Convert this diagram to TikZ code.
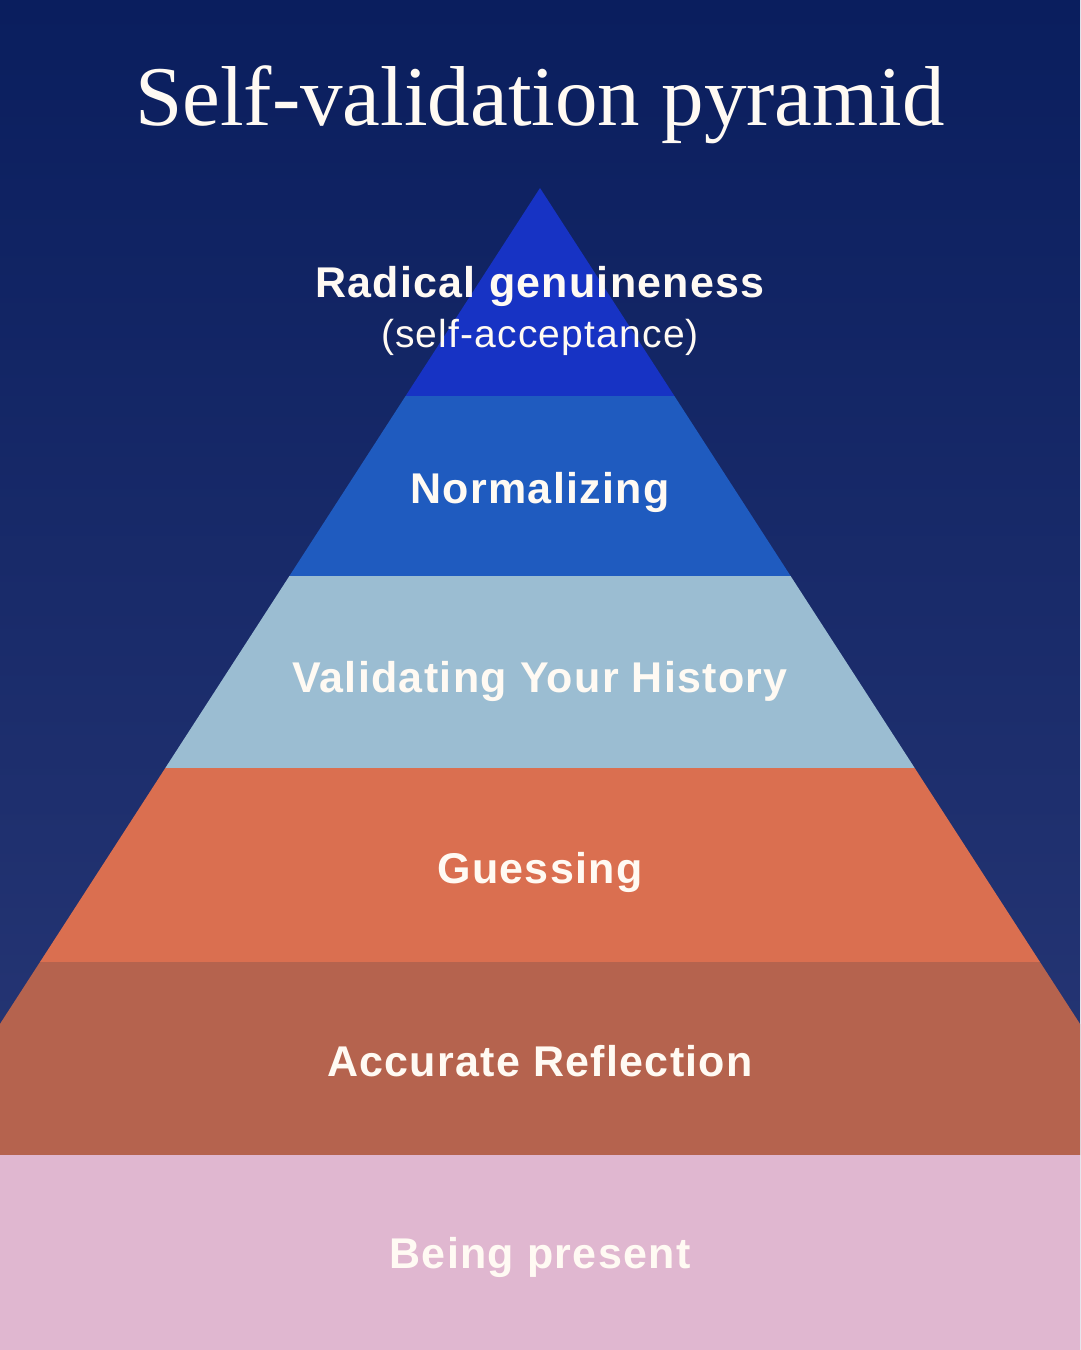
\documentclass[tikz,border=0pt]{standalone}
\usepackage{fontspec}
\setmainfont{Liberation Serif}
\newfontfamily\labfont[LetterSpace=3]{Liberation Sans}
\newfontfamily\sublabfont[LetterSpace=3]{Liberation Sans}
\definecolor{bgtop}{HTML}{0A1E5E}
\definecolor{bgbot}{HTML}{2C3B79}
\definecolor{lay1}{HTML}{1733C4}
\definecolor{lay2}{HTML}{1F5BBF}
\definecolor{lay3}{HTML}{9BBDD2}
\definecolor{lay4}{HTML}{DA6F50}
\definecolor{lay5}{HTML}{B5634E}
\definecolor{lay6}{HTML}{E0B7D0}
\definecolor{txt}{HTML}{FFFAF3}
\tikzset{
  lab/.style={text=txt, font=\labfont\bfseries\fontsize{43}{50}\selectfont, inner sep=0pt, anchor=base},
  sublab/.style={text=txt, font=\sublabfont\fontsize{39}{46}\selectfont, inner sep=0pt, anchor=base},
}
\begin{document}
\begin{tikzpicture}[x=1pt,y=-1pt]
\useasboundingbox (0,0) rectangle (1080,1350);
\begin{scope}
\clip (0,0) rectangle (1080,1350);
\shade[top color=bgtop, bottom color=bgbot] (0,0) rectangle (1080,1350);
% pyramid layers
\fill[lay1] (540,188) -- (674.4,396) -- (405.6,396) -- cycle;
\fill[lay2] (405.6,396) -- (674.4,396) -- (790.6,576) -- (289.4,576) -- cycle;
\fill[lay3] (289.4,576) -- (790.6,576) -- (914.7,768) -- (165.3,768) -- cycle;
\fill[lay4] (165.3,768) -- (914.7,768) -- (1040,962) -- (40,962) -- cycle;
\fill[lay5] (40,962) -- (1040,962) -- (1164.7,1155) -- (-84.7,1155) -- cycle;
\fill[lay6] (0,1155) rectangle (1080,1350);
\end{scope}
% title
\node[text=txt, font=\fontsize{85}{90}\selectfont, inner sep=0pt, anchor=base] (title) at (540,125) {Self-validation pyramid};
% labels
\node[lab] (l1) at (540,297) {Radical genuineness};
\node[sublab] (l1b) at (540,347) {(self-acceptance)};
\node[lab] (l2) at (540,503) {Normalizing};
\node[lab] (l3) at (540,692) {Validating Your History};
\node[lab] (l4) at (540,883) {Guessing};
\node[lab] (l5) at (540,1076) {Accurate Reflection};
\node[lab] (l6) at (540,1268) {Being present};
\end{tikzpicture}
\end{document}
